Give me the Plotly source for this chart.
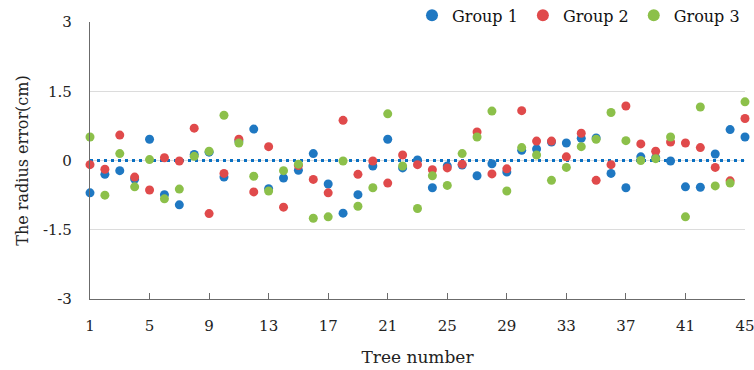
import plotly.graph_objects as go

trees = list(range(1, 46))

group1 = [-0.70, -0.30, -0.22, -0.40, 0.46, -0.74, -0.96, 0.13, 0.18, -0.36,
          0.42, 0.68, -0.61, -0.38, -0.21, 0.15, -0.51, -1.14, -0.74, -0.12,
          0.46, -0.16, 0.01, -0.59, -0.12, -0.10, -0.33, -0.07, -0.25, 0.22,
          0.25, 0.40, 0.38, 0.48, 0.49, -0.28, -0.59, 0.08, 0.06, -0.01,
          -0.57, -0.58, 0.14, 0.67, 0.51]
group2 = [-0.09, -0.19, 0.55, -0.36, -0.64, 0.06, -0.01, 0.70, -1.15, -0.28,
          0.46, -0.68, 0.30, -1.01, -0.11, -0.41, -0.70, 0.87, -0.30, -0.01,
          -0.49, 0.12, -0.09, -0.20, -0.16, -0.08, 0.62, -0.29, -0.18, 1.08,
          0.42, 0.42, 0.08, 0.59, -0.43, -0.09, 1.18, 0.36, 0.20, 0.40,
          0.38, 0.28, -0.15, -0.44, 0.91]
group3 = [0.51, -0.75, 0.15, -0.57, 0.02, -0.83, -0.62, 0.09, 0.20, 0.98,
          0.38, -0.34, -0.66, -0.22, -0.08, -1.25, -1.22, -0.01, -0.99, -0.59,
          1.01, -0.12, -1.04, -0.33, -0.54, 0.15, 0.51, 1.07, -0.66, 0.28,
          0.12, -0.43, -0.15, 0.30, 0.46, 1.04, 0.43, 0.00, 0.04, 0.51,
          -1.22, 1.16, -0.55, -0.49, 1.27]

names = ["Group 1", "Group 2", "Group 3"]
colors = ["#1f78c2", "#e04a4b", "#8cc04a"]
x_ticks = list(range(1, 46, 4))
y_ticks = [-3, -1.5, 0, 1.5, 3]
y_tick_text = ["-3", "-1.5", "0", "1.5", "3"]

font_family = "DejaVu Serif"

fig = go.Figure()

fig.add_trace(go.Scatter(
    x=[trees[0], trees[-1]], y=[0, 0], mode="lines",
    line=dict(color="#0a70c2", width=3, dash="3px,4px"),
    showlegend=False, hoverinfo="skip"))

for vals, name, col in zip([group1, group2, group3], names, colors):
    fig.add_trace(go.Scatter(
        x=trees, y=vals, mode="markers", name=name,
        marker=dict(color=col, size=9, line=dict(width=0)),
        cliponaxis=False))

fig.update_layout(
    width=754, height=370,
    margin=dict(l=90, r=9, t=22, b=71, autoexpand=False),
    paper_bgcolor="white", plot_bgcolor="white",
    font=dict(family=font_family, size=15, color="#222222"),
    legend=dict(orientation="h", x=1.0, xanchor="right", y=1.085, yanchor="top",
                bgcolor="rgba(0,0,0,0)", font=dict(size=16, color="#111111"),
                itemsizing="constant", traceorder="normal"),
    xaxis=dict(range=[1, 45], tickvals=x_ticks, showgrid=False, zeroline=False,
               showline=True, linecolor="#6b6b6b", linewidth=1.3,
               ticks="inside", ticklen=6, tickcolor="#6b6b6b", tickwidth=1.3,
               ticklabelstandoff=13, ticklabeloverflow="allow",
               automargin=False,
               title=dict(text="Tree number", font=dict(size=17), standoff=16)),
    yaxis=dict(range=[-3, 3], tickvals=y_ticks, ticktext=y_tick_text,
               showgrid=True, gridcolor="#dcdcdc", gridwidth=1.3, zeroline=False,
               showline=True, linecolor="#6b6b6b", linewidth=1.3,
               ticks="", ticklabelstandoff=14, automargin=False,
               title=dict(text="The radius error(cm)", font=dict(size=16), standoff=10)),
)

fig.write_html("out.html")
